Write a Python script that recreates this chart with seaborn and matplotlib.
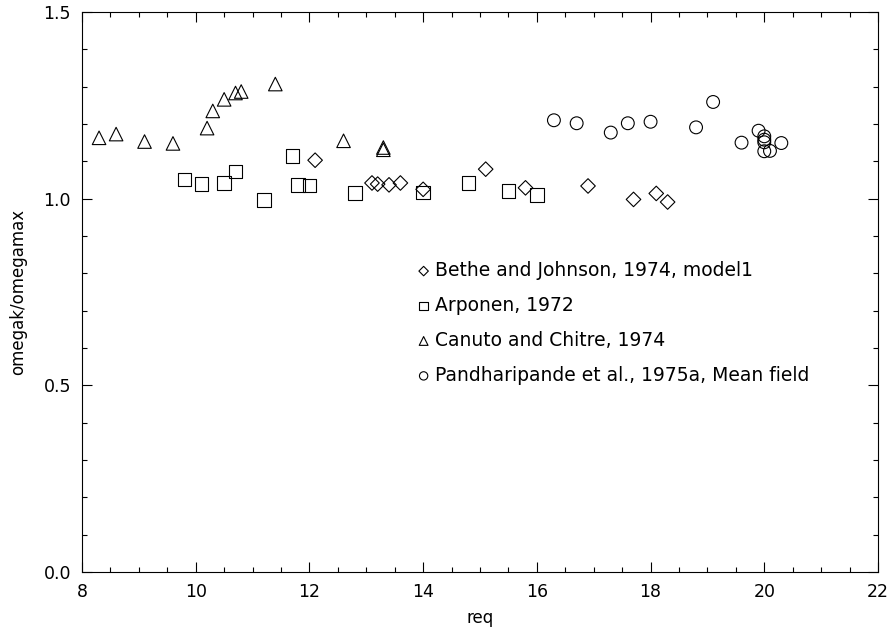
import matplotlib
matplotlib.use("Agg")
import matplotlib.pyplot as plt
from matplotlib.ticker import MultipleLocator
import seaborn as sns
import pandas as pd

# ---- data ----
bethe_x = [12.1, 13.1, 13.2, 13.4, 13.6, 14.0, 15.1, 15.8, 16.9, 17.7, 18.1, 18.3]
bethe_y = [1.103, 1.042, 1.039, 1.037, 1.042, 1.025, 1.079, 1.029, 1.034, 0.998, 1.014, 0.991]

arponen_x = [9.8, 10.1, 10.5, 10.7, 11.2, 11.7, 11.8, 12.0, 12.8, 14.0, 14.8, 15.5, 16.0]
arponen_y = [1.051, 1.039, 1.042, 1.073, 0.996, 1.114, 1.037, 1.035, 1.015, 1.017, 1.042, 1.021, 1.010]

canuto_x = [8.3, 8.6, 9.1, 9.6, 10.2, 10.3, 10.5, 10.7, 10.8, 11.4, 12.6, 13.3, 13.3]
canuto_y = [1.163, 1.173, 1.153, 1.148, 1.189, 1.235, 1.266, 1.283, 1.287, 1.307, 1.155, 1.131, 1.137]

pandha_x = [16.3, 16.7, 17.3, 17.6, 18.0, 18.8, 19.1, 19.6, 19.9, 20.0, 20.0, 20.0, 20.0, 20.1, 20.3]
pandha_y = [1.210, 1.202, 1.177, 1.202, 1.206, 1.191, 1.259, 1.150, 1.182, 1.167, 1.158, 1.151, 1.127, 1.128, 1.149]

labels = ["Bethe and Johnson, 1974, model1",
          "Arponen, 1972",
          "Canuto and Chitre, 1974",
          "Pandharipande et al., 1975a, Mean field"]

sns.set_style("ticks")
plt.rcParams['font.family'] = ['DejaVu Sans']
plt.rcParams['text.color'] = 'black'
plt.rcParams['axes.labelcolor'] = 'black'

fig = plt.figure(figsize=(8.92, 6.37), dpi=100)
ax = fig.add_axes([82/892, 1-572/637, (878-82)/892, (572-12)/637])

series = [
    (bethe_x, bethe_y, 'D', 55, labels[0]),
    (arponen_x, arponen_y, 's', 95, labels[1]),
    (canuto_x, canuto_y, '^', 95, labels[2]),
    (pandha_x, pandha_y, 'o', 85, labels[3]),
]
for xs, ys, m, s, lab in series:
    df = pd.DataFrame({"req": xs, "ratio": ys})
    sns.scatterplot(data=df, x="req", y="ratio", marker=m, s=s, ax=ax,
                    facecolor='none', edgecolor='black', linewidth=0.8,
                    label=lab, legend=False)

ax.set_xlim(8, 22)
ax.set_ylim(0.0, 1.5)
ax.xaxis.set_major_locator(MultipleLocator(2))
ax.xaxis.set_minor_locator(MultipleLocator(0.5))
ax.yaxis.set_major_locator(MultipleLocator(0.5))
ax.yaxis.set_minor_locator(MultipleLocator(0.1))
ax.set_yticklabels([f"{v:.1f}" for v in ax.get_yticks()])
ax.tick_params(which='both', direction='in', top=True, right=True,
               colors='black', width=0.8, labelsize=12.5)
ax.tick_params(which='major', length=7, pad=8)
ax.tick_params(which='minor', length=3.5)
for sp in ax.spines.values():
    sp.set_color('black')
    sp.set_linewidth(0.8)

ax.set_xlabel("req", fontsize=12, labelpad=6, color='black')
ax.set_ylabel("omegak/omegamax", fontsize=12, labelpad=12, color='black')

leg = ax.legend(loc='upper left', bbox_to_anchor=((418-82)/796, (572-261)/560),
                frameon=False, handlelength=0.6, handletextpad=0.3,
                labelspacing=0.85, borderpad=0, borderaxespad=0,
                markerscale=0.65, fontsize=13.5, labelcolor='black')

fig.savefig("out.png", dpi=100)
